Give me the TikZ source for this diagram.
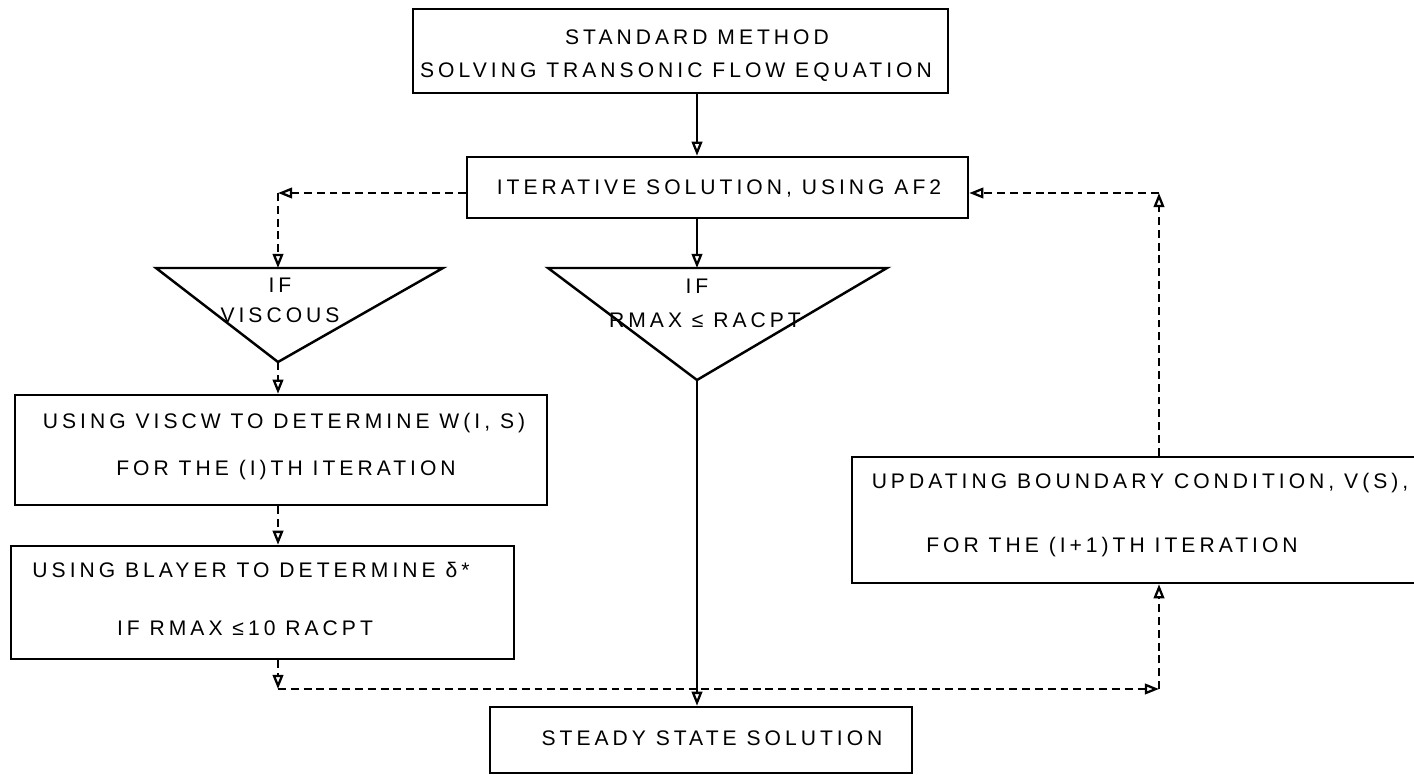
\documentclass[tikz,border=0pt]{standalone}
\usepackage{fontspec}
\setmainfont{Liberation Sans}[LetterSpace=19]
\usetikzlibrary{arrows.meta,positioning}

\tikzset{
  box/.style={draw, line width=1.4pt, rectangle, inner sep=0pt},
  txt/.style={inner sep=0pt, font=\fontsize{12}{14}\selectfont},
  flow/.style={line width=1.3pt, -{Triangle[open,length=8pt,width=6pt]}},
  dflow/.style={flow, dash pattern=on 4.5pt off 2.8pt},
}

\begin{document}
\begin{tikzpicture}
        \useasboundingbox (0,0) rectangle (28.28,-15.5);
        \node[box, minimum width=10.7cm, minimum height=1.68cm] (std) at (13.61,-1.02) {};
        \node[txt] (std1) at (13.94,-0.74) {STANDARD METHOD};
        \node[txt] (std2) at (13.52,-1.44) {SOLVING TRANSONIC FLOW EQUATION};
        \node[box, minimum width=10.02cm, minimum height=1.22cm] (iter) at (14.35,-3.75) {};
        \node[txt] (iter1) at (14.38,-3.76) {ITERATIVE SOLUTION, USING AF2};
        \coordinate (visT) at (5.56,-5.36);
        \coordinate (visB) at (5.56,-7.24);
        \draw[line width=1.4pt] (3.12,-5.36) -- (8.86,-5.36) -- (visB) -- cycle;
        \node[txt] (vis1) at (5.6,-5.7) {IF};
        \node[txt] (vis2) at (5.6,-6.3) {VISCOUS};
        \coordinate (accT) at (13.94,-5.36);
        \coordinate (accB) at (13.94,-7.6);
        \draw[line width=1.4pt] (10.96,-5.36) -- (17.74,-5.36) -- (accB) -- cycle;
        \node[txt] (acc1) at (13.94,-5.72) {IF};
        \node[txt] (acc2) at (14.1,-6.4) {RMAX ≤ RACPT};
        \node[box, minimum width=10.64cm, minimum height=2.2cm] (viscw) at (5.62,-9.0) {};
        \node[txt] (viscw1) at (5.68,-8.46) {USING VISCW TO DETERMINE W(I, S)};
        \node[txt] (viscw2) at (5.72,-9.4) {FOR THE (I)TH ITERATION};
        \node[box, minimum width=10.06cm, minimum height=2.26cm] (blay) at (5.25,-12.05) {};
        \node[txt] (blay1) at (5.02,-11.4) {USING BLAYER TO DETERMINE δ*};
        \node[txt] (blay2) at (4.9,-12.56) {IF RMAX ≤10 RACPT};
        \node[box, minimum width=11.56cm, minimum height=2.52cm] (upd) at (22.82,-10.4) {};
        \node[txt] (upd1) at (22.8,-9.66) {UPDATING BOUNDARY CONDITION, V(S),};
        \node[txt] (upd2) at (22.24,-10.94) {FOR THE (I+1)TH ITERATION};
        \node[box, minimum width=8.44cm, minimum height=1.32cm] (steady) at (14.02,-14.8) {};
        \node[txt] (steady1) at (14.24,-14.76) {STEADY STATE SOLUTION};
        \coordinate (cTL) at (5.56,-3.86);
        \coordinate (cTR) at (23.18,-3.86);
        \coordinate (cBL) at (5.56,-13.78);
        \coordinate (cBR) at (23.18,-13.78);
        \draw[flow] (accT |- std.south) -- (accT |- iter.north);
        \draw[flow] (iter.south -| accT) -- (accT);
        \draw[flow] (accB) -- (accB |- steady.north);
        \draw[dflow] (iter.west |- cTL) -- (cTL);
        \draw[dflow] (cTL) -- (visT);
        \draw[dflow] (visB) -- (visB |- viscw.north);
        \draw[dflow] (viscw.south -| visB) -- (blay.north -| visB);
        \draw[dflow] (blay.south -| visB) -- (cBL);
        \draw[dflow] (cBL) -- (cBR);
        \draw[dflow] (cBR) -- (cBR |- upd.south);
        \draw[dflow] (upd.north -| cTR) -- (cTR);
        \draw[dflow] (cTR) -- (iter.east |- cTR);
    \end{tikzpicture}
\end{document}
